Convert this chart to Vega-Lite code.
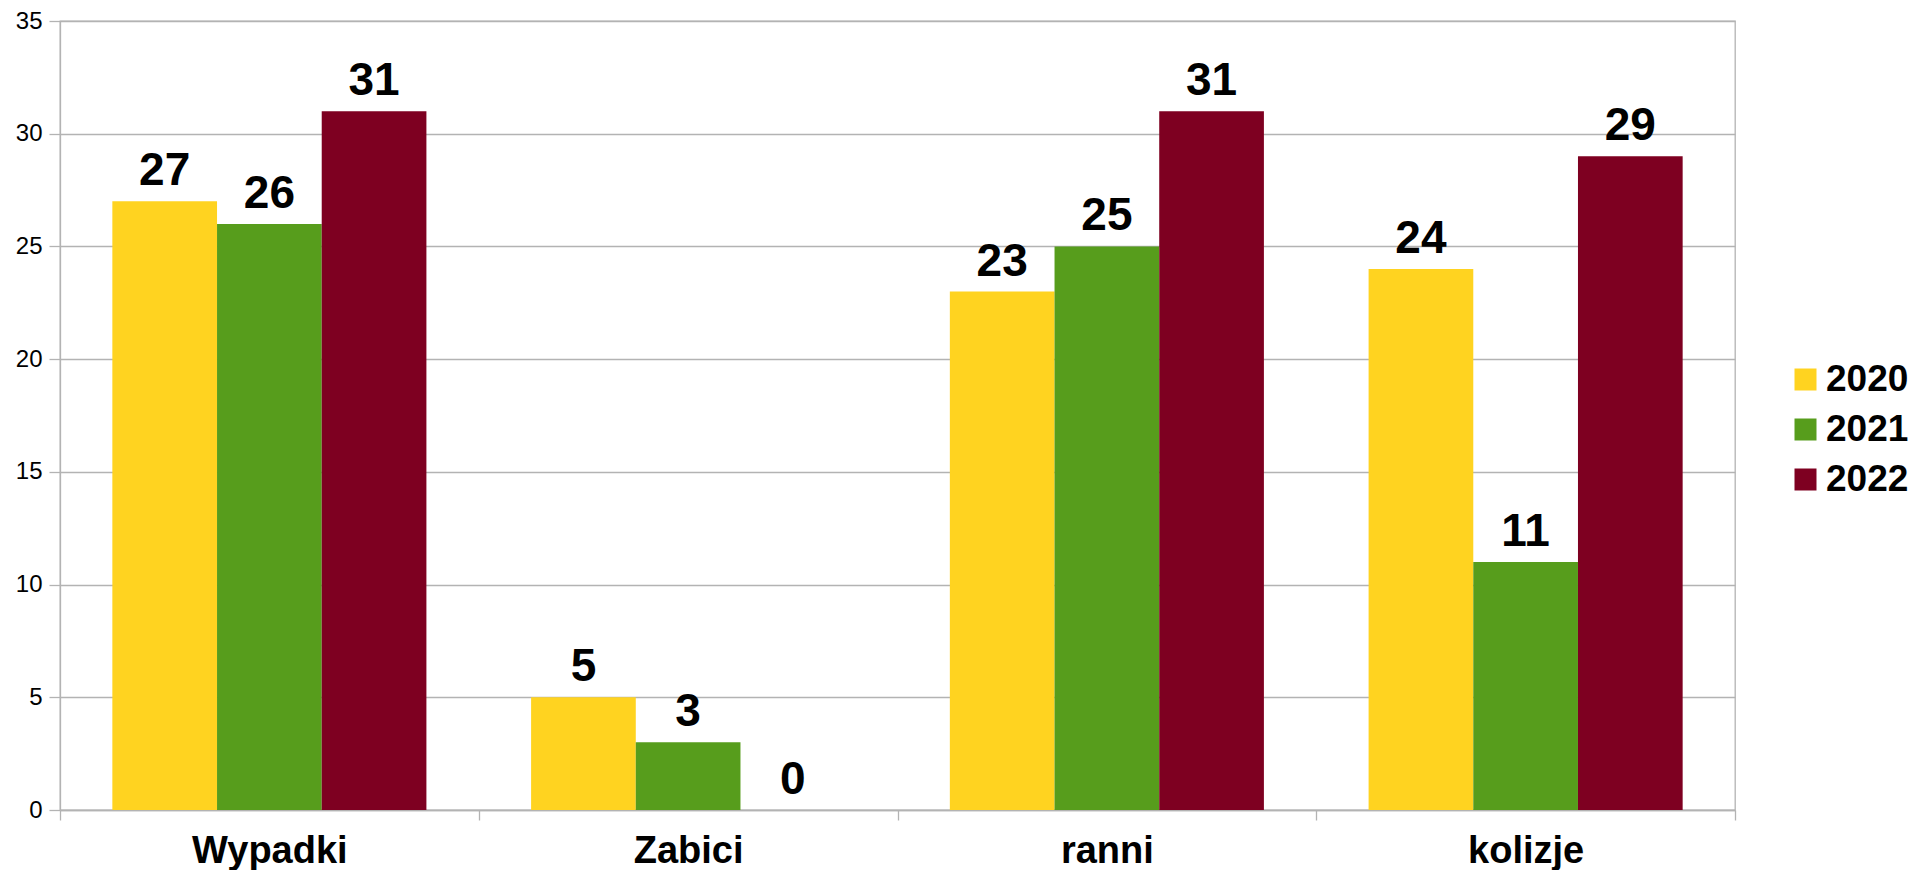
{
  "$schema": "https://vega.github.io/schema/vega-lite/v6.json",
  "width": 1675,
  "height": 789,
  "autosize": {"type": "none"},
  "padding": {"left": 60, "top": 21, "right": 183, "bottom": 60},
  "background": "white",
  "config": {
    "font": "Liberation Sans",
    "view": {"stroke": "#b3b3b3", "strokeWidth": 1.3}
  },
  "data": {
    "values": [
      {"kat": "Wypadki", "rok": "2020", "v": 27},
      {"kat": "Wypadki", "rok": "2021", "v": 26},
      {"kat": "Wypadki", "rok": "2022", "v": 31},
      {"kat": "Zabici", "rok": "2020", "v": 5},
      {"kat": "Zabici", "rok": "2021", "v": 3},
      {"kat": "Zabici", "rok": "2022", "v": 0},
      {"kat": "ranni", "rok": "2020", "v": 23},
      {"kat": "ranni", "rok": "2021", "v": 25},
      {"kat": "ranni", "rok": "2022", "v": 31},
      {"kat": "kolizje", "rok": "2020", "v": 24},
      {"kat": "kolizje", "rok": "2021", "v": 11},
      {"kat": "kolizje", "rok": "2022", "v": 29}
    ]
  },
  "encoding": {
    "x": {
      "field": "kat", "type": "nominal", "sort": null,
      "scale": {"paddingInner": 0, "paddingOuter": 0},
      "axis": {
        "title": null, "labelAngle": 0, "tickBand": "extent",
        "labelFont": "Liberation Sans", "labelFontWeight": "bold", "labelFontSize": 38, "labelColor": "#000000",
        "domainColor": "#b3b3b3", "domainWidth": 1.3, "tickColor": "#b3b3b3", "tickWidth": 1.3, "tickSize": 10, "labelPadding": 12,
        "grid": false
      }
    },
    "xOffset": {"field": "rok", "type": "nominal", "scale": {"paddingInner": 0, "paddingOuter": 0.5}},
    "y": {
      "field": "v", "type": "quantitative",
      "scale": {"domain": [0, 35], "nice": false},
      "axis": {
        "title": null, "values": [0, 5, 10, 15, 20, 25, 30, 35],
        "labelFont": "Liberation Sans", "labelFontSize": 24, "labelColor": "#000000",
        "domainColor": "#b3b3b3", "domainWidth": 1.3, "tickColor": "#b3b3b3", "tickWidth": 1.3, "tickSize": 11, "labelPadding": 7,
        "gridColor": "#b3b3b3", "gridWidth": 1.3
      }
    }
  },
  "layer": [
    {
      "mark": {"type": "bar"},
      "encoding": {
        "color": {
          "field": "rok", "type": "nominal",
          "scale": {"domain": ["2020", "2021", "2022"], "range": ["#ffd320", "#579d1c", "#7e0021"]},
          "legend": {
            "title": null, "orient": "none", "legendX": 1727, "legendY": 340, "padding": 0,
            "symbolType": "square", "symbolSize": 484, "symbolStrokeWidth": 0,
            "labelFont": "Liberation Sans", "labelFontWeight": "bold", "labelFontSize": 37, "labelColor": "#000000",
            "labelOffset": 2, "rowPadding": 12
          }
        }
      }
    },
    {
      "mark": {"type": "text", "baseline": "alphabetic", "dy": -16, "font": "Liberation Sans", "fontWeight": "bold", "fontSize": 46, "color": "#000000"},
      "encoding": {"text": {"field": "v", "type": "quantitative"}}
    }
  ]
}
